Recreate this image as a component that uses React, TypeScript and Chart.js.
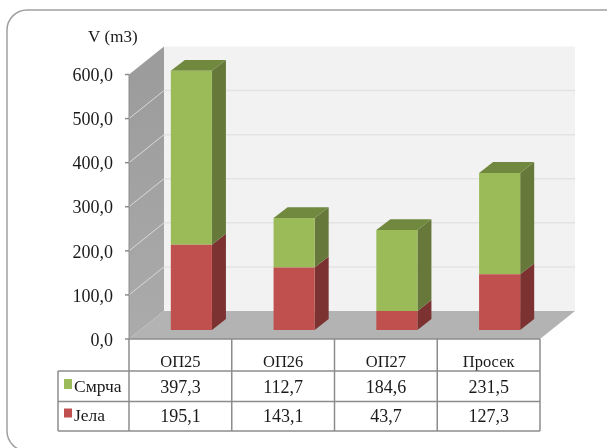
import React, { useEffect, useRef } from "react";
import { Chart, registerables } from "chart.js";

Chart.register(...registerables);

const categories = ["ОП25", "ОП26", "ОП27", "Просек"];
const smrcha = [397.3, 112.7, 184.6, 231.5];
const jela = [195.1, 143.1, 43.7, 127.3];
const FONT = '"Liberation Serif", serif';
const fmt = (v: number) => v.toFixed(1).replace(".", ",");

const wall = { dx: 35, dy: 28 };
const bar = { ox: 11, baseY: 330, squeeze: 0.9925, dx: 14, dy: 11 };
const rows = { top: 371, mid: 401.5, bottom: 431, left: 58 };

function poly(ctx: CanvasRenderingContext2D, pts: number[][], fill: string) {
  ctx.beginPath();
  pts.forEach((p, i) => (i ? ctx.lineTo(p[0], p[1]) : ctx.moveTo(p[0], p[1])));
  ctx.closePath();
  ctx.fillStyle = fill;
  ctx.fill();
}

function line(ctx: CanvasRenderingContext2D, x1: number, y1: number, x2: number, y2: number, color: string, w = 1) {
  ctx.beginPath();
  ctx.moveTo(x1, y1);
  ctx.lineTo(x2, y2);
  ctx.strokeStyle = color;
  ctx.lineWidth = w;
  ctx.stroke();
}

const scene = {
  id: "scene",
  beforeDraw(chart: any) {
    const { ctx, chartArea: a, scales } = chart;
    const y = scales.y;
    ctx.save();
    ctx.beginPath();
    ctx.roundRect(7, 10, 622, 441, 20);
    ctx.fillStyle = "#ffffff";
    ctx.fill();
    ctx.strokeStyle = "#a0a0a0";
    ctx.lineWidth = 1.5;
    ctx.stroke();

    const L = a.left, R = a.right, T = a.top, B = a.bottom;
    poly(ctx, [[L + wall.dx, T - wall.dy], [R + wall.dx, T - wall.dy], [R + wall.dx, B - wall.dy], [L + wall.dx, B - wall.dy]], "#f2f2f2");
    const g = ctx.createLinearGradient(0, T, 0, B);
    g.addColorStop(0, "#9c9c9c");
    g.addColorStop(1, "#ababab");
    poly(ctx, [[L, T], [L + wall.dx, T - wall.dy], [L + wall.dx, B - wall.dy], [L, B]], g as any);
    poly(ctx, [[L, B], [L + wall.dx, B - wall.dy], [R + wall.dx, B - wall.dy], [R, B]], "#b3b3b3");
    y.ticks.forEach((t: any) => {
      const py = y.getPixelForValue(t.value);
      if (t.value > 0 && t.value < 600) {
        line(ctx, L, py, L + wall.dx, py - wall.dy, "#d9d9d9", 1);
        line(ctx, L + wall.dx, py - wall.dy, R + wall.dx, py - wall.dy, "#e3e3e3", 1.5);
      }
      line(ctx, L - 4, py, L, py, "#8c8c8c", 1.5);
    });
    line(ctx, L, T, L, B, "#8c8c8c", 1);
    line(ctx, L, B, R, B, "#8c8c8c", 1.5);
    ctx.restore();
  },
  beforeDatasetsDraw(chart: any) {
    const { ctx, chartArea: a } = chart;
    ctx.save();
    ctx.translate(bar.ox, bar.baseY);
    ctx.scale(1, bar.squeeze);
    ctx.translate(0, -a.bottom);
    const shades = [
      { side: "#7b3230", top: "#8c3a38" },
      { side: "#66783a", top: "#71893f" },
    ];
    chart.data.datasets.forEach((_: any, di: number) => {
      chart.getDatasetMeta(di).data.forEach((el: any) => {
        const p = el.getProps(["x", "y", "base", "width"], true);
        const x2 = p.x + p.width / 2;
        const x1 = p.x - p.width / 2;
        poly(ctx, [[x2, p.base], [x2 + bar.dx, p.base - bar.dy], [x2 + bar.dx, p.y - bar.dy], [x2, p.y]], shades[di].side);
        if (di === 1) {
          poly(ctx, [[x1, p.y], [x1 + bar.dx, p.y - bar.dy], [x2 + bar.dx, p.y - bar.dy], [x2, p.y]], shades[di].top);
        }
      });
    });
  },
  afterDatasetsDraw(chart: any) {
    chart.ctx.restore();
  },
  afterDraw(chart: any) {
    const { ctx, chartArea: a, scales } = chart;
    const x = scales.x;
    const colEdges = categories.map((_, i) => a.left + (i * (a.right - a.left)) / categories.length);
    colEdges.push(a.right);
    const c = "#8c8c8c";
    ctx.save();
    colEdges.forEach((e) => line(ctx, e, a.bottom, e, rows.bottom, c, 1.5));
    line(ctx, rows.left, rows.top, a.right, rows.top, c, 1.5);
    line(ctx, rows.left, rows.mid, a.right, rows.mid, c, 1.5);
    line(ctx, rows.left, rows.bottom, a.right, rows.bottom, c, 1.5);
    line(ctx, rows.left, rows.top, rows.left, rows.bottom, c, 1.5);

    ctx.font = `18px ${FONT}`;
    ctx.fillStyle = "#1a1a1a";
    ctx.textBaseline = "middle";
    ctx.textAlign = "center";
    categories.forEach((_, i) => {
      const cx = x.getPixelForValue(i);
      ctx.fillText(fmt(smrcha[i]), cx, 388);
      ctx.fillText(fmt(jela[i]), cx, 417);
    });
    ctx.textAlign = "left";
    ctx.font = `17.5px ${FONT}`;
    ctx.fillText("Смрча", 74, 387);
    ctx.fillText("Јела", 74, 416);
    ctx.fillStyle = "#9bbb59";
    ctx.fillRect(64, 379, 8, 10);
    ctx.fillStyle = "#c0504d";
    ctx.fillRect(64, 408.5, 8, 9);
    ctx.fillStyle = "#1a1a1a";
    ctx.font = `17px ${FONT}`;
    ctx.textAlign = "left";
    ctx.fillText("V (m3)", 88, 38);
    ctx.restore();
  },
};

export default function App() {
  const ref = useRef<HTMLCanvasElement>(null);
  useEffect(() => {
    document.body.style.margin = "0";
    const chart = new Chart(ref.current!, {
      type: "bar",
      data: {
        labels: categories,
        datasets: [
          { label: "Јела", data: jela, backgroundColor: "#c0504d", stack: "a" },
          { label: "Смрча", data: smrcha, backgroundColor: "#9bbb59", stack: "a" },
        ],
      },
      plugins: [scene],
      options: {
        responsive: false,
        animation: false,
        events: [],
        layout: { autoPadding: false, padding: { left: 0, right: 67, top: 74.5, bottom: 0 } },
        plugins: { legend: { display: false }, tooltip: { enabled: false }, title: { display: false } },
        datasets: { bar: { categoryPercentage: 1, barPercentage: 0.4, borderWidth: 0 } },
        scales: {
          x: {
            stacked: true,
            grid: { display: false },
            border: { display: false },
            ticks: { color: "#1a1a1a", padding: 6, maxRotation: 0, font: { family: FONT, size: 16.5 } },
            afterFit: (s: any) => { s.height = 109; },
          },
          y: {
            stacked: true,
            min: 0,
            max: 600,
            grid: { display: false },
            border: { display: false },
            ticks: {
              stepSize: 100,
              padding: 8,
              labelOffset: 2,
              color: "#1a1a1a",
              font: { family: FONT, size: 18 },
              callback: (v: any) => fmt(Number(v)),
            },
            afterFit: (s: any) => { s.width = 129; },
          },
        },
      },
    } as any);
    return () => chart.destroy();
  }, []);
  return <canvas ref={ref} width={607} height={448} style={{ display: "block" }} />;
}
